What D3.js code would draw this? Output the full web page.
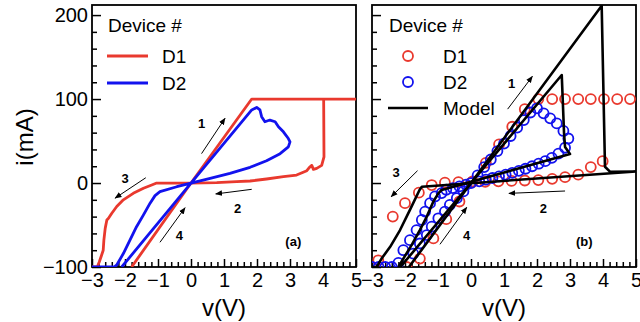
<!DOCTYPE html>
<html lang="en">
<head>
<meta charset="UTF-8">
<title>i-v loops</title>
<style>
  body { margin: 0; background: #fff; }
  svg { display: block; font-family: "Liberation Sans", Arial, sans-serif; }
  .tick text { font-size: 20px; fill: #000; }
  .tick line, .domain { stroke: #000; stroke-width: 1.5; }
  .axis-title { font-size: 24px; }
  .legend-text { font-size: 19px; }
  .num { font-size: 13px; font-weight: bold; }
</style>
</head>
<body>
<svg id="chart" width="640" height="322"></svg>
<script src="https://cdnjs.cloudflare.com/ajax/libs/d3/7.9.0/d3.min.js"></script>
<script>
// ---- data (v in V, i in mA) ----
const xMajor = [-3, -2, -1, 0, 1, 2, 3, 4, 5];
const yMajor = [-100, 0, 100, 200];

// panel (a) measured traces
const d1Trace = [
  [-1.8, -100], [0, 0], [1.84, 100], [5, 100], [4.02, 100], [4.03, 31], [3.96, 21], [3.81, 17.5],
  [3.71, 16.3], [3.66, 21], [3.59, 18.7], [3.51, 14.7], [3.2, 9.5], [2.8, 7.5], [2.29, 4.8],
  [1.79, 2.4], [1.38, 1.6], [0.78, 0.4], [0, 0], [-1.04, 0], [-1.19, -2.4], [-1.44, -6.3],
  [-1.75, -12.3], [-2.05, -20], [-2.25, -28], [-2.4, -36], [-2.5, -42], [-2.55, -44],
  [-2.6, -54], [-2.64, -68], [-2.66, -80], [-2.71, -86], [-2.78, -94], [-2.84, -100], [-3, -100]
];
const d2Trace = [
  [-2.1, -100], [0, 0], [1.84, 87], [1.99, 90], [2.09, 87], [2.14, 79], [2.24, 73], [2.39, 75],
  [2.55, 73], [2.65, 67], [2.8, 61], [2.95, 53], [3.0, 49], [2.95, 43], [2.7, 35], [2.29, 26.6],
  [1.79, 18.7], [1.18, 11.5], [0.58, 5.6], [0, 0], [-0.43, -4.4], [-0.94, -10.3], [-1.09, -15],
  [-1.24, -24], [-1.44, -38], [-1.65, -52], [-1.85, -68], [-2.05, -84], [-2.25, -97.6],
  [-2.33, -100], [-3, -100]
];

// panel (b) measured points
const d1Points = [
  [0.45, 24], [0.85, 46], [1.25, 67], [1.63, 88], [2.04, 100], [2.46, 100], [2.85, 100],
  [3.25, 100], [3.63, 100], [4.03, 100], [4.43, 100], [4.82, 100],
  [3.99, 26], [3.63, 19], [3.25, 10], [2.85, 7], [2.46, 5], [2.04, 3.5], [1.63, 3], [1.23, 2.5],
  [0.83, 2], [0.43, 1.5], [0.03, 1], [-0.38, 1], [-0.79, 0.4], [-1.19, -2.4], [-1.58, -11.5],
  [-2.0, -24], [-2.37, -40], [-2.81, -92],
  [-1.95, -100], [-1.55, -90], [-1.14, -66], [-0.75, -43], [-0.35, -22], [0.05, 2]
];
const d2Points = [
  [0, 0], [0.2, 9], [0.4, 19], [0.6, 28], [0.8, 38], [1.0, 47], [1.2, 56], [1.4, 66],
  [1.6, 75], [1.8, 84], [2.0, 89], [2.2, 83], [2.4, 77], [2.6, 71], [2.8, 62], [2.95, 53],
  [2.85, 42], [2.65, 35], [2.45, 30], [2.25, 26], [2.05, 23], [1.85, 20], [1.65, 17],
  [1.45, 14.5], [1.25, 12], [1.05, 10], [0.85, 8], [0.65, 6], [0.45, 4], [0.25, 2],
  [-0.15, -2], [-0.35, -4], [-0.55, -6], [-0.75, -8], [-0.89, -12], [-1.09, -16], [-1.24, -24],
  [-1.39, -34], [-1.49, -44], [-1.65, -56], [-1.85, -68], [-2.05, -80], [-2.2, -95],
  [-2.4, -100], [-2.6, -100], [-2.8, -100], [-3.0, -100],
  [-1.75, -84], [-1.55, -72], [-1.34, -62], [-1.19, -52], [-0.99, -42], [-0.79, -34],
  [-0.64, -26], [-0.43, -18], [-0.23, -10]
];
const modelD1 = [
  [-1.88, -100], [0, 0], [3.96, 211], [4.06, 19.4], [4.21, 13.5], [5, 13.8], [-1.49, -4.4],
  [-1.56, -8.3], [-1.85, -32], [-2.15, -56], [-2.45, -76], [-2.71, -90], [-2.86, -100], [-3, -100]
];
const modelD2 = [
  [-2.14, -100], [0, 0], [2.75, 128.6], [2.78, 99], [2.82, 59], [2.85, 43], [3.0, 34.5],
  [-0.89, -8.3], [-0.99, -12.3], [-1.14, -22], [-1.34, -40], [-1.55, -56], [-1.8, -74],
  [-2.05, -90], [-2.2, -100]
];

// sweep-direction arrows: [v0, i0, v1, i1, label, labelV, labelI]
const arrowsA = [
  [0.32, 35, 1.03, 77, "1", 0.32, 71],
  [1.84, -7.5, 0.75, -13, "2", 1.41, -30],
  [-1.37, 6.3, -2.3, -18, "3", -2.0, 6],
  [-0.94, -70.6, -0.18, -29.4, "4", -0.35, -62]
];
const arrowsB = [
  [1.11, 88, 1.86, 127, "1", 1.23, 119],
  [2.85, -9.5, 1.15, -12.3, "2", 2.19, -30],
  [-1.62, 14.7, -2.42, -16.3, "3", -2.27, 13],
  [-0.94, -73, -0.13, -29, "4", -0.13, -62]
];

// ---- layout ----
const plotTop = 5, plotBottom = 267;
const y = d3.scaleLinear().domain([-100, 212]).range([plotBottom, plotTop]);
const red = "#e9392e", blue = "#1212ee";

const svg = d3.select("#chart");

svg.append("defs").append("marker")
  .attr("id", "head")
  .attr("viewBox", "0 0 10 10")
  .attr("refX", 9).attr("refY", 5)
  .attr("markerWidth", 7).attr("markerHeight", 7)
  .attr("markerUnits", "userSpaceOnUse")
  .attr("orient", "auto")
  .append("path").attr("d", "M0,1L10,5L0,9Z").attr("fill", "#000");

const line = (x) => d3.line().x(d => x(d[0])).y(d => y(d[1]));

function panel(id, left, right, showYLabels) {
  const x = d3.scaleLinear().domain([-3, 5]).range([left, right]);
  const g = svg.append("g");

  g.append("clipPath").attr("id", "clip-" + id)
    .append("rect").attr("x", left).attr("y", plotTop)
    .attr("width", right - left).attr("height", plotBottom - plotTop);

  // minor ticks
  const xMinor = d3.range(-30, 51, 2).map(d => d / 10).filter(d => !xMajor.includes(d));
  const yMinor = d3.range(-100, 201, 20).filter(d => !yMajor.includes(d));
  g.append("g").attr("transform", `translate(0,${plotBottom})`)
    .call(d3.axisBottom(x).tickValues(xMinor).tickSize(-5).tickFormat(""))
    .call(a => a.select(".domain").remove());
  g.append("g").attr("transform", `translate(${left},0)`)
    .call(d3.axisLeft(y).tickValues(yMinor).tickSize(-5).tickFormat(""))
    .call(a => a.select(".domain").remove());

  // major ticks
  g.append("g").attr("transform", `translate(0,${plotBottom})`)
    .call(d3.axisBottom(x).tickValues(xMajor).tickSize(-8).tickSizeOuter(0).tickPadding(6))
    .call(a => a.select(".domain").remove());
  g.append("g").attr("transform", `translate(${left},0)`)
    .call(d3.axisLeft(y).tickValues(yMajor).tickSize(-9).tickSizeOuter(0).tickPadding(4)
      .tickFormat(showYLabels ? d3.format("") : ""))
    .call(a => a.select(".domain").remove());

  g.append("rect")
    .attr("x", left).attr("y", plotTop)
    .attr("width", right - left).attr("height", plotBottom - plotTop)
    .attr("fill", "none").attr("stroke", "#000").attr("stroke-width", 1.8);

  g.append("text").attr("class", "axis-title")
    .attr("x", (left + right) / 2).attr("y", 316)
    .attr("text-anchor", "middle").text("v(V)");

  const plot = g.append("g").attr("clip-path", `url(#clip-${id})`);
  return { x, g, plot };
}

// ---- panel (a) ----
const A = panel("a", 92, 356, true);
A.plot.append("path").datum(d1Trace)
  .attr("d", line(A.x)).attr("fill", "none")
  .attr("stroke", red).attr("stroke-width", 2.8).attr("stroke-linejoin", "round");
A.plot.append("path").datum(d2Trace)
  .attr("d", line(A.x)).attr("fill", "none")
  .attr("stroke", blue).attr("stroke-width", 2.8).attr("stroke-linejoin", "round");

// ---- panel (b) ----
const B = panel("b", 372, 636, false);
B.plot.selectAll(".p1").data(d1Points).join("circle")
  .attr("cx", d => B.x(d[0])).attr("cy", d => y(d[1])).attr("r", 5)
  .attr("fill", "none").attr("stroke", red).attr("stroke-width", 1.8);
B.plot.selectAll(".p2").data(d2Points).join("circle")
  .attr("cx", d => B.x(d[0])).attr("cy", d => y(d[1])).attr("r", 5)
  .attr("fill", "none").attr("stroke", blue).attr("stroke-width", 1.8);
[modelD1, modelD2].forEach(m => {
  B.plot.append("path").datum(m)
    .attr("d", line(B.x)).attr("fill", "none")
    .attr("stroke", "#000").attr("stroke-width", 2.6).attr("stroke-linejoin", "round");
});

// arrows and sweep numbers
function arrows(P, list, tag, tagV, tagI) {
  list.forEach(a => {
    P.g.append("line")
      .attr("x1", P.x(a[0])).attr("y1", y(a[1]))
      .attr("x2", P.x(a[2])).attr("y2", y(a[3]))
      .attr("stroke", "#000").attr("stroke-width", 1)
      .attr("marker-end", "url(#head)");
    P.g.append("text").attr("class", "num")
      .attr("x", P.x(a[5])).attr("y", y(a[6]))
      .attr("text-anchor", "middle").attr("dy", "0.35em").text(a[4]);
  });
  P.g.append("text").attr("class", "num").attr("font-size", 12)
    .attr("x", P.x(tagV)).attr("y", y(tagI))
    .attr("text-anchor", "middle").attr("dy", "0.35em").text(tag);
}
arrows(A, arrowsA, "(a)", 3.1, -69);
arrows(B, arrowsB, "(b)", 3.43, -69);

// y title
svg.append("text").attr("class", "axis-title")
  .attr("transform", "translate(33,137) rotate(-90)")
  .attr("text-anchor", "middle").text("i(mA)");

// ---- legends ----
const legA = svg.append("g");
legA.append("text").attr("class", "legend-text").attr("x", 108).attr("y", 32).text("Device #");
[["D1", red, 56], ["D2", blue, 83]].forEach(([name, c, ly]) => {
  legA.append("line").attr("x1", 107).attr("x2", 148).attr("y1", ly).attr("y2", ly)
    .attr("stroke", c).attr("stroke-width", 2.8);
  legA.append("text").attr("class", "legend-text").attr("x", 162).attr("y", ly)
    .attr("dy", "0.35em").text(name);
});

const legB = svg.append("g");
legB.append("text").attr("class", "legend-text").attr("x", 389).attr("y", 32).text("Device #");
[["D1", red, 56], ["D2", blue, 82]].forEach(([name, c, ly]) => {
  legB.append("circle").attr("cx", 408).attr("cy", ly).attr("r", 5)
    .attr("fill", "none").attr("stroke", c).attr("stroke-width", 1.8);
  legB.append("text").attr("class", "legend-text").attr("x", 443).attr("y", ly)
    .attr("dy", "0.35em").text(name);
});
legB.append("line").attr("x1", 388).attr("x2", 428).attr("y1", 108).attr("y2", 108)
  .attr("stroke", "#000").attr("stroke-width", 2.6);
legB.append("text").attr("class", "legend-text").attr("x", 443).attr("y", 108)
  .attr("dy", "0.35em").text("Model");
</script>
</body>
</html>
